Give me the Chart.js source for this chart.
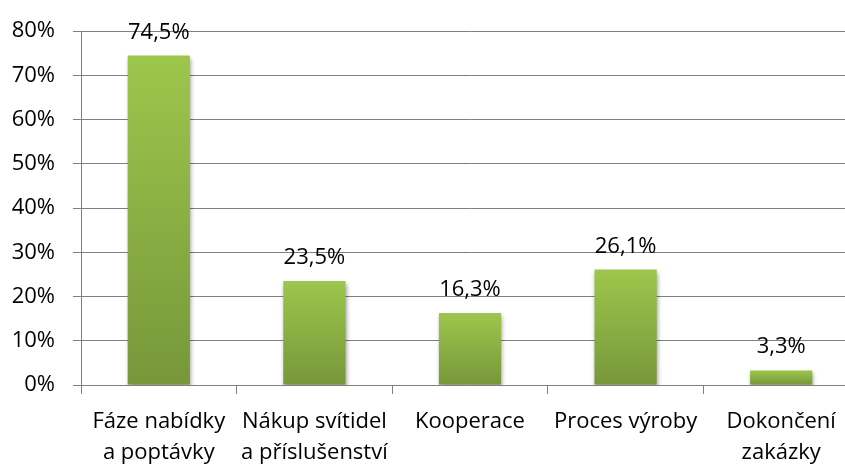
<!DOCTYPE html>
<html lang="cs">
<head>
<meta charset="utf-8">
<title>Fáze zakázky</title>
<script src="https://cdn.jsdelivr.net/npm/chart.js@4.4.1/dist/chart.umd.min.js"></script>
<style>
    html, body { margin: 0; padding: 0; background: #fff; overflow: hidden; }
    #wrap { position: absolute; left: 0; top: 0; width: 872px; height: 465px; }
</style>
</head>
<body>
<div id="wrap"><canvas id="phaseChart"></canvas></div>
<script>
// Podíl odpovědí podle fáze zakázky
const categories = [
    ['Fáze nabídky', 'a poptávky'],
    ['Nákup svítidel', 'a příslušenství'],
    ['Kooperace'],
    ['Proces výroby'],
    ['Dokončení', 'zakázky']
];
const shares = [74.5, 23.5, 16.3, 26.1, 3.3];
const yTicks = [0, 10, 20, 30, 40, 50, 60, 70, 80];

const FONT = '"Open Sans", sans-serif';
const GRID = '#808080';

const formatPct = v => v.toFixed(1).replace('.', ',') + '%';

// each bar gets its own light-to-dark vertical gradient
function barGradient(context) {
    const chart = context.chart;
    const { ctx, chartArea, scales } = chart;
    if (!chartArea) return '#8bb043';
    const value = context.raw;
    const top = scales.y.getPixelForValue(value);
    const bottom = scales.y.getPixelForValue(0);
    const g = ctx.createLinearGradient(0, top, 0, bottom);
    g.addColorStop(0, '#9dc64c');
    g.addColorStop(1, '#77973a');
    return g;
}

// soft drop shadow under the bars
const barShadow = {
    id: 'barShadow',
    beforeDatasetsDraw(chart) {
        const ctx = chart.ctx;
        ctx.save();
        ctx.shadowColor = 'rgba(0, 0, 0, 0.35)';
        ctx.shadowBlur = 4;
        ctx.shadowOffsetX = 1;
        ctx.shadowOffsetY = 3;
    },
    afterDatasetsDraw(chart) {
        chart.ctx.restore();
    }
};

// value labels above the bars
const valueLabels = {
    id: 'valueLabels',
    afterDatasetsDraw(chart) {
        const ctx = chart.ctx;
        const meta = chart.getDatasetMeta(0);
        ctx.save();
        ctx.font = '22px ' + FONT;
        ctx.fillStyle = '#000';
        ctx.textAlign = 'center';
        ctx.textBaseline = 'alphabetic';
        meta.data.forEach((bar, i) => {
            ctx.fillText(formatPct(shares[i]), bar.x, bar.y - 17);
        });
        ctx.restore();
    }
};

new Chart(document.getElementById('phaseChart'), {
    type: 'bar',
    data: {
        labels: categories,
        datasets: [{
            data: shares,
            backgroundColor: barGradient,
            borderWidth: 0,
            barPercentage: 0.4,
            categoryPercentage: 1
        }]
    },
    options: {
        responsive: true,
        maintainAspectRatio: false,
        animation: false,
        events: [],
        layout: { padding: { top: 27, right: 13, left: 0, bottom: 0 } },
        plugins: {
            legend: { display: false },
            tooltip: { enabled: false }
        },
        scales: {
            x: {
                grid: {
                    drawOnChartArea: false,
                    drawTicks: true,
                    tickLength: 9,
                    color: GRID,
                    offset: true
                },
                border: { color: GRID, width: 1 },
                ticks: {
                    color: '#000',
                    font: { family: FONT, size: 22, lineHeight: 1.42 },
                    padding: 12,
                    maxRotation: 0,
                    autoSkip: false
                },
                afterFit(scale) { scale.height = 80; }
            },
            y: {
                min: 0,
                max: 80,
                afterBuildTicks(scale) {
                    scale.ticks = yTicks.map(v => ({ value: v }));
                },
                grid: {
                    color: GRID,
                    lineWidth: 1,
                    drawTicks: true,
                    tickLength: 8
                },
                border: { color: GRID, width: 1 },
                ticks: {
                    color: '#000',
                    font: { family: FONT, size: 22 },
                    padding: 18,
                    callback: v => v + '%'
                },
                afterFit(scale) { scale.width = 81; }
            }
        }
    },
    plugins: [barShadow, valueLabels]
});
</script>
</body>
</html>
